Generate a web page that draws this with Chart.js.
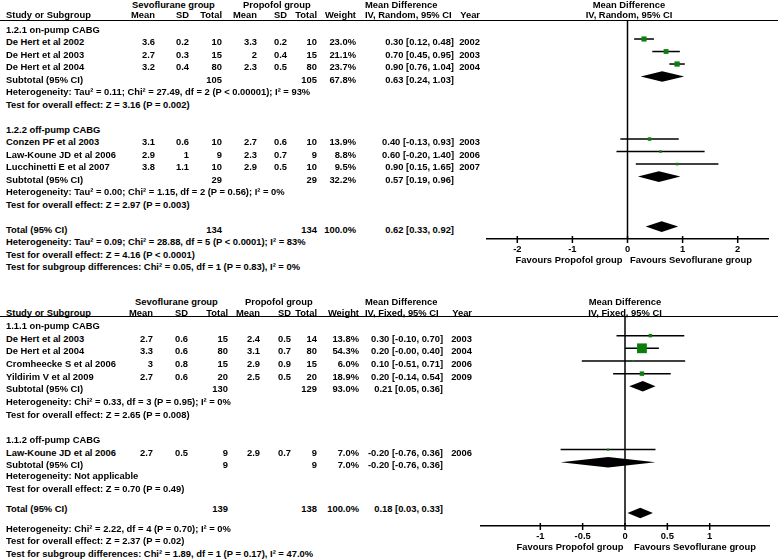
<!DOCTYPE html>
<html>
<head>
<meta charset="utf-8">
<script src="https://cdn.jsdelivr.net/npm/chart.js@4.4.0/dist/chart.umd.min.js"></script>
<style>
  body { margin: 0; background: #fff; width: 778px; height: 560px; overflow: hidden; position: relative;
         font: bold 9.4px "Liberation Sans", Arial, sans-serif; color: #000; }
  .t { position: absolute; white-space: nowrap; line-height: 12px; height: 12px; }
  .hr { position: absolute; left: 0; width: 778px; height: 0; border-top: 1.5px solid #000; }
  canvas { position: absolute; }
</style>
</head>
<body>
<div class="hr" style="top:20px"></div>
<div class="hr" style="top:316px"></div>
<canvas id="chartTop" width="308" height="300" style="left:470px;top:0"></canvas>
<canvas id="chartBottom" width="313" height="260" style="left:465px;top:300px"></canvas>
<script>
// ---- top analysis (random effects) ----
const topStudies = ['De Hert et al 2002', 'De Hert et al 2003', 'De Hert et al 2004',
                    'Conzen PF et al 2003', 'Law-Koune JD et al 2006', 'Lucchinetti E et al 2007'];
const topRows = [1, 2, 3, 9, 10, 11];
const topSevoMean = [3.6, 2.7, 3.2, 3.1, 2.9, 3.8];
const topSevoSD = [0.2, 0.3, 0.4, 0.6, 1, 1.1];
const topSevoN = [10, 15, 80, 10, 9, 10];
const topPropMean = [3.3, 2, 2.3, 2.7, 2.3, 2.9];
const topPropSD = [0.2, 0.4, 0.5, 0.6, 0.7, 0.5];
const topPropN = [10, 15, 80, 10, 9, 10];
const topWeight = [23.0, 21.1, 23.7, 13.9, 8.8, 9.5];
const topMD = [0.30, 0.70, 0.90, 0.40, 0.60, 0.90];
const topLo = [0.12, 0.45, 0.76, -0.13, -0.20, 0.15];
const topHi = [0.48, 0.95, 1.04, 0.93, 1.40, 1.65];
const topYear = [2002, 2003, 2004, 2003, 2006, 2007];

const topSubLabels = ['Subtotal (95% CI)', 'Subtotal (95% CI)', 'Total (95% CI)'];
const topSubRows = [4, 12, 16];
const topSubSevoN = [105, 29, 134];
const topSubPropN = [105, 29, 134];
const topSubWeight = [67.8, 32.2, 100.0];
const topSubMD = [0.63, 0.57, 0.62];
const topSubLo = [0.24, 0.19, 0.33];
const topSubHi = [1.03, 0.96, 0.92];

const topNotes = [
  [0, '1.2.1 on-pump CABG'],
  [5, 'Heterogeneity: Tau\u00b2 = 0.11; Chi\u00b2 = 27.49, df = 2 (P < 0.00001); I\u00b2 = 93%'],
  [6, 'Test for overall effect: Z = 3.16 (P = 0.002)'],
  [8, '1.2.2 off-pump CABG'],
  [13, 'Heterogeneity: Tau\u00b2 = 0.00; Chi\u00b2 = 1.15, df = 2 (P = 0.56); I\u00b2 = 0%'],
  [14, 'Test for overall effect: Z = 2.97 (P = 0.003)'],
  [17, 'Heterogeneity: Tau\u00b2 = 0.09; Chi\u00b2 = 28.88, df = 5 (P < 0.0001); I\u00b2 = 83%'],
  [18, 'Test for overall effect: Z = 4.16 (P < 0.0001)'],
  [19, 'Test for subgroup differences: Chi\u00b2 = 0.05, df = 1 (P = 0.83), I\u00b2 = 0%']
];
const topTicks = [-2, -1, 0, 1, 2];

// ---- bottom analysis (fixed effect) ----
const botStudies = ['De Hert et al 2003', 'De Hert et al 2004', 'Cromheecke S et al 2006',
                    'Yildirim V et al 2009', 'Law-Koune JD et al 2006'];
const botRows = [1, 2, 3, 4, 10];
const botSevoMean = [2.7, 3.3, 3, 2.7, 2.7];
const botSevoSD = [0.6, 0.6, 0.8, 0.6, 0.5];
const botSevoN = [15, 80, 15, 20, 9];
const botPropMean = [2.4, 3.1, 2.9, 2.5, 2.9];
const botPropSD = [0.5, 0.7, 0.9, 0.5, 0.7];
const botPropN = [14, 80, 15, 20, 9];
const botWeight = [13.8, 54.3, 6.0, 18.9, 7.0];
const botMD = [0.30, 0.20, 0.10, 0.20, -0.20];
const botLo = [-0.10, -0.00, -0.51, -0.14, -0.76];
const botHi = [0.70, 0.40, 0.71, 0.54, 0.36];
const botYear = [2003, 2004, 2006, 2009, 2006];

const botSubLabels = ['Subtotal (95% CI)', 'Subtotal (95% CI)', 'Total (95% CI)'];
const botSubRows = [5, 11, 15];
const botSubSevoN = [130, 9, 139];
const botSubPropN = [129, 9, 138];
const botSubWeight = [93.0, 7.0, 100.0];
const botSubMD = [0.21, -0.20, 0.18];
const botSubLo = [0.05, -0.76, 0.03];
const botSubHi = [0.36, 0.36, 0.33];

const botNotes = [
  [0, '1.1.1 on-pump CABG'],
  [6, 'Heterogeneity: Chi\u00b2 = 0.33, df = 3 (P = 0.95); I\u00b2 = 0%'],
  [7, 'Test for overall effect: Z = 2.65 (P = 0.008)'],
  [9, '1.1.2 off-pump CABG'],
  [12, 'Heterogeneity: Not applicable'],
  [13, 'Test for overall effect: Z = 0.70 (P = 0.49)'],
  [16, 'Heterogeneity: Chi\u00b2 = 2.22, df = 4 (P = 0.70); I\u00b2 = 0%'],
  [17, 'Test for overall effect: Z = 2.37 (P = 0.02)'],
  [18, 'Test for subgroup differences: Chi\u00b2 = 1.89, df = 1 (P = 0.17), I\u00b2 = 47.0%']
];
const botTicks = [-1, -0.5, 0, 0.5, 1];

// ---- text table ----
function put(txt, x, y, align) {
  const d = document.createElement('div');
  d.className = 't';
  d.textContent = txt;
  d.style.top = (y - 6) + 'px';
  if (align === 'r') {
    d.style.left = (x - 300) + 'px'; d.style.width = '300px'; d.style.textAlign = 'right';
  } else if (align === 'c') {
    d.style.left = (x - 150) + 'px'; d.style.width = '300px'; d.style.textAlign = 'center';
  } else {
    d.style.left = x + 'px';
  }
  document.body.appendChild(d);
}

function fmt(v) {
  return (v < 0 || Object.is(v, -0) ? '-' : '') + Math.abs(v).toFixed(2);
}
function ci(m, lo, hi) {
  return fmt(m) + ' [' + fmt(lo) + ', ' + fmt(hi) + ']';
}

function drawTable(p, d) {
  // text sits a little below the marks of its row; some rows are nudged
  const y = r => p.y0 + p.step * r + 3 + (p.nudge[r] || 0);
  const c = p.cols;
  put('Sevoflurane group', c.sevoHead, p.h1);
  put('Propofol group', c.propHead, p.h1);
  put('Mean Difference', c.mdHead, p.h1);
  put('Mean Difference', p.plotMid, p.h1, 'c');
  put('Study or Subgroup', 6, p.h2);
  put('Mean', c.sm, p.h2, 'r');
  put('SD', c.ss, p.h2, 'r');
  put('Total', c.sn, p.h2, 'r');
  put('Mean', c.pm, p.h2, 'r');
  put('SD', c.ps, p.h2, 'r');
  put('Total', c.pn, p.h2, 'r');
  put('Weight', c.w, p.h2, 'r');
  put(p.method, c.mdHead, p.h2);
  put('Year', c.yr, p.h2, 'r');
  put(p.method, p.plotMid, p.h2, 'c');

  d.studies.forEach((s, i) => {
    const yy = y(d.rows[i]);
    put(s, 6, yy);
    put(String(d.sevoMean[i]), c.sm, yy, 'r');
    put(String(d.sevoSD[i]), c.ss, yy, 'r');
    put(String(d.sevoN[i]), c.sn, yy, 'r');
    put(String(d.propMean[i]), c.pm, yy, 'r');
    put(String(d.propSD[i]), c.ps, yy, 'r');
    put(String(d.propN[i]), c.pn, yy, 'r');
    put(d.weight[i].toFixed(1) + '%', c.w, yy, 'r');
    put(ci(d.md[i], d.lo[i], d.hi[i]), c.ci, yy, 'r');
    put(String(d.year[i]), c.yr, yy, 'r');
  });
  d.subLabels.forEach((s, i) => {
    const yy = y(d.subRows[i]);
    put(s, 6, yy);
    put(String(d.subSevoN[i]), c.sn, yy, 'r');
    put(String(d.subPropN[i]), c.pn, yy, 'r');
    put(d.subWeight[i].toFixed(1) + '%', c.w, yy, 'r');
    put(ci(d.subMD[i], d.subLo[i], d.subHi[i]), c.ci, yy, 'r');
  });
  d.notes.forEach(n => put(n[1], 6, y(n[0])));
  put('Favours Propofol group', p.favL, p.favY, 'c');
  put('Favours Sevoflurane group', p.favR, p.favY, 'c');
}

const topData = {
  studies: topStudies, rows: topRows, sevoMean: topSevoMean, sevoSD: topSevoSD, sevoN: topSevoN,
  propMean: topPropMean, propSD: topPropSD, propN: topPropN, weight: topWeight,
  md: topMD, lo: topLo, hi: topHi, year: topYear,
  subLabels: topSubLabels, subRows: topSubRows, subSevoN: topSubSevoN, subPropN: topSubPropN,
  subWeight: topSubWeight, subMD: topSubMD, subLo: topSubLo, subHi: topSubHi, notes: topNotes
};
const botData = {
  studies: botStudies, rows: botRows, sevoMean: botSevoMean, sevoSD: botSevoSD, sevoN: botSevoN,
  propMean: botPropMean, propSD: botPropSD, propN: botPropN, weight: botWeight,
  md: botMD, lo: botLo, hi: botHi, year: botYear,
  subLabels: botSubLabels, subRows: botSubRows, subSevoN: botSubSevoN, subPropN: botSubPropN,
  subWeight: botSubWeight, subMD: botSubMD, subLo: botSubLo, subHi: botSubHi, notes: botNotes
};

drawTable({
  y0: 26.5, step: 12.51, h1: 4.5, h2: 15, plotMid: 629, method: 'IV, Random, 95% CI',
  favL: 569, favR: 691, favY: 259.5, nudge: {},
  cols: { sevoHead: 132, propHead: 243, mdHead: 365, sm: 155, ss: 189, sn: 222, pm: 257,
          ps: 287, pn: 317, w: 356, ci: 454, yr: 480 }
}, topData);

drawTable({
  y0: 323, step: 12.66, h1: 302, h2: 313, plotMid: 625, method: 'IV, Fixed, 95% CI',
  favL: 570, favR: 695, favY: 547, nudge: { 12: -2, 13: -2, 15: -7 },
  cols: { sevoHead: 135, propHead: 245, mdHead: 365, sm: 153, ss: 188, sn: 228, pm: 260,
          ps: 291, pn: 317, w: 359, ci: 443, yr: 472 }
}, botData);

// ---- forest plots ----
const forestPlugin = {
  id: 'forest',
  beforeDatasetsDraw(chart) {
    const { ctx, chartArea, scales: { x } } = chart;
    const x0 = x.getPixelForValue(0);
    ctx.save();
    ctx.strokeStyle = '#000';
    ctx.lineWidth = 1.5;
    ctx.beginPath();
    ctx.moveTo(x0, chartArea.top);
    ctx.lineTo(x0, chartArea.bottom);
    ctx.stroke();
    ctx.restore();
  },
  afterDatasetsDraw(chart, args, opts) {
    const { ctx, chartArea, scales: { x, y } } = chart;
    ctx.save();
    ctx.fillStyle = '#000';
    opts.diamonds.forEach(d => {
      const py = y.getPixelForValue(d.row);
      ctx.beginPath();
      ctx.moveTo(x.getPixelForValue(d.lo), py);
      ctx.lineTo(x.getPixelForValue(d.md), py - opts.half);
      ctx.lineTo(x.getPixelForValue(d.hi), py);
      ctx.lineTo(x.getPixelForValue(d.md), py + opts.half);
      ctx.closePath();
      ctx.fill();
    });
    ctx.strokeStyle = '#000';
    ctx.lineWidth = 1.5;
    x.ticks.forEach(t => {
      const px = x.getPixelForValue(t.value);
      ctx.beginPath();
      ctx.moveTo(px, chartArea.bottom - 3);
      ctx.lineTo(px, chartArea.bottom + 4);
      ctx.stroke();
    });
    ctx.restore();
  }
};

function makeForest(id, d, ticks, xr, yr, padding) {
  const squares = {
    data: d.md.map((m, i) => ({ x: m, y: d.rows[i] })),
    pointStyle: 'rect',
    pointRadius: d.weight.map(w => 0.49 * Math.pow(w, 0.75) / Math.SQRT2),
    backgroundColor: '#0a800a',
    borderWidth: 0,
    showLine: false
  };
  const lines = d.md.map((m, i) => ({
    data: [{ x: d.lo[i], y: d.rows[i] }, { x: d.hi[i], y: d.rows[i] }],
    showLine: true,
    borderColor: '#000',
    borderWidth: 1.5,
    pointRadius: 0
  }));
  const diamonds = d.subMD.map((m, i) => ({ md: m, lo: d.subLo[i], hi: d.subHi[i], row: d.subRows[i] }));

  new Chart(document.getElementById(id).getContext('2d'), {
    type: 'scatter',
    data: { datasets: [squares].concat(lines) },
    plugins: [forestPlugin],
    options: {
      responsive: false,
      animation: false,
      layout: { padding: padding },
      plugins: {
        legend: { display: false },
        tooltip: { enabled: false },
        forest: { diamonds: diamonds, half: 5.3 }
      },
      scales: {
        x: {
          type: 'linear', min: -xr, max: xr,
          afterBuildTicks: s => { s.ticks = ticks.map(v => ({ value: v })); },
          afterFit: s => { s.height = 20; },
          grid: { display: false, drawTicks: false },
          border: { display: true, color: '#000', width: 1.5 },
          ticks: {
            color: '#000', padding: 5, autoSkip: false, maxRotation: 0,
            font: { family: 'Liberation Sans', size: 9.4, weight: 'bold' },
            callback: v => String(v)
          }
        },
        y: { type: 'linear', display: false, reverse: true, min: yr[0], max: yr[1] }
      }
    }
  });
}

makeForest('chartTop', topData, topTicks, 2.55, [-0.52, 16.99],
           { left: 17, right: 10, top: 20, bottom: 41 });
makeForest('chartBottom', botData, botTicks, 1.7, [-0.55, 16.03],
           { left: 16, right: 9, top: 16, bottom: 14 });
</script>
</body>
</html>
